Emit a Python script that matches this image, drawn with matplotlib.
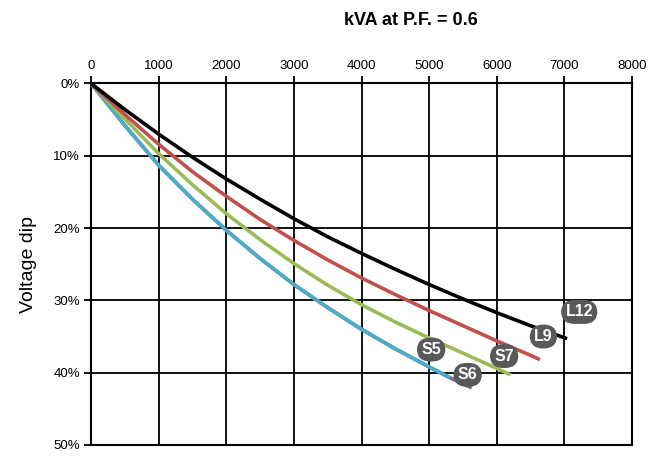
import matplotlib.pyplot as plt
import numpy as np

plt.rcParams['font.family'] = ['Liberation Sans', 'DejaVu Sans']

# kVA values and voltage dip (%)
kva_l12 = [0, 500, 1000, 1500, 2000, 2500, 3000, 3500, 4000, 4500, 5000, 5500, 6000, 6500, 7040]
dip_l12 = [0, 3.6, 7.0, 10.2, 13.2, 16.0, 18.7, 21.2, 23.5, 25.7, 27.8, 29.8, 31.7, 33.5, 35.3]

kva_l9 = [0, 500, 1000, 1500, 2000, 2500, 3000, 3500, 4000, 4500, 5000, 5500, 6000, 6500, 6640]
dip_l9 = [0, 4.3, 8.4, 12.2, 15.6, 18.8, 21.7, 24.4, 26.9, 29.2, 31.4, 33.5, 35.6, 37.6, 38.2]

kva_s7 = [0, 500, 1000, 1500, 2000, 2500, 3000, 3500, 4000, 4500, 5000, 5500, 6000, 6200]
dip_s7 = [0, 4.9, 9.7, 14.0, 18.0, 21.6, 24.9, 27.9, 30.6, 33.0, 35.2, 37.3, 39.4, 40.3]

kva_s6 = [0, 500, 1000, 1500, 2000, 2500, 3000, 3500, 4000, 4500, 5000, 5310, 5630]
dip_s6 = [0, 5.8, 11.3, 16.0, 20.3, 24.2, 27.8, 31.0, 34.0, 36.7, 39.2, 40.7, 42.1]

kva_s5 = [0, 500, 1000, 1500, 2000, 2500, 3000, 3500, 4000, 4500, 5000, 5310]
dip_s5 = [0, 5.8, 11.3, 16.0, 20.3, 24.2, 27.8, 31.0, 34.0, 36.7, 39.2, 40.7]

series = [
    (kva_s6, dip_s6, '#8064A2'),
    (kva_s5, dip_s5, '#4BACC6'),
    (kva_s7, dip_s7, '#9BBB59'),
    (kva_l9, dip_l9, '#C0504D'),
    (kva_l12, dip_l12, '#000000'),
]

# label names and where the tags sit
tag_names = ['L12', 'L9', 'S7', 'S5', 'S6']
tag_x = [7220, 6690, 6110, 5030, 5570]
tag_y = [31.6, 35.0, 37.7, 36.8, 40.3]

fig = plt.figure(figsize=(6.63, 4.57), dpi=100)
ax = fig.add_axes([0.1373, 0.0263, 0.8159, 0.7910])

for x, y, c in series:
    ax.plot(x, y, color=c, lw=2.6, solid_capstyle='butt',
            solid_joinstyle='round', zorder=3)

for name, x, y in zip(tag_names, tag_x, tag_y):
    ax.text(x, y, name, color='white', fontsize=11.5, fontweight='bold',
            ha='center', va='center', zorder=5,
            bbox=dict(boxstyle='round,pad=0.28,rounding_size=0.85',
                      fc='#595959', ec='none'))

ax.set_xlim(0, 8000)
ax.set_ylim(50, 0)
ax.set_xticks(np.arange(0, 8001, 1000))
ax.set_yticks(np.arange(0, 51, 10))
ax.set_yticklabels([f'{v}%' for v in range(0, 51, 10)])
ax.xaxis.tick_top()
ax.tick_params(axis='both', labelsize=9.5, length=5, width=1.3, color='black', pad=3)
ax.grid(True, color='black', lw=1.3)
ax.set_axisbelow(True)
for s in ax.spines.values():
    s.set_linewidth(1.5)

ax.set_ylabel('Voltage dip', fontsize=14, labelpad=12)
fig.text(0.62, 0.955, 'kVA at P.F. = 0.6', fontsize=13, fontweight='bold',
         ha='center', va='center')

fig.savefig('out.png', dpi=100)
